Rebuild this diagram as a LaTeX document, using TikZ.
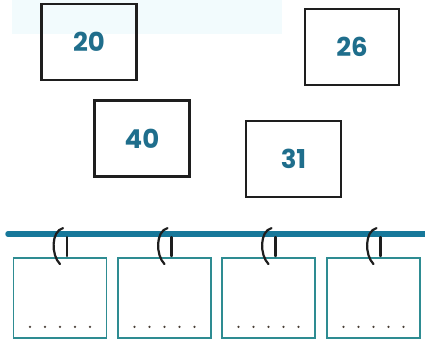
\documentclass[tikz,border=0pt]{standalone}
\usepackage{fontspec}
\setsansfont{Poppins}
\usepackage{xcolor}
\usepackage{tikz}
\usetikzlibrary{positioning,calc}
\definecolor{ink}{HTML}{1E1E1E}
\definecolor{numblue}{HTML}{1F6E8C}
\definecolor{rodblue}{HTML}{17789A}
\definecolor{cardteal}{HTML}{2E8C92}
\definecolor{haze}{HTML}{F2FBFD}
\definecolor{dotgray}{HTML}{4A4038}
\tikzset{
  numbox/.style={draw=ink,line width=2.4pt,minimum width=95pt,minimum height=76pt,inner sep=0pt,
    font=\sffamily\bfseries\fontsize{26}{28}\selectfont,text=numblue},
  card/.style={draw=cardteal,line width=1.8pt,minimum width=93pt,minimum height=80pt,inner sep=0pt},
  rod/.style={draw=rodblue,line width=5.5pt,line cap=round},
  ring/.style={draw=ink,line width=2.2pt,line cap=round},
  blank/.style={fill=dotgray,circle,inner sep=0pt,minimum size=2.6pt}
}
\begin{document}
\begin{tikzpicture}[x=1pt,y=-1pt]
  \useasboundingbox (0,0) rectangle (425,343);
  \fill[haze] (12,0) rectangle (282,34);

  % number boxes
  \node[numbox] (n20) at (89,42) {20};
  \node[numbox,minimum width=94pt,minimum height=76pt] (n26) at (352,47) {26};
  \node[numbox] (n40) at (142,138.5) {40};
  \node[numbox,minimum width=95pt,minimum height=76pt] (n31) at (293.5,159) {31};

  % rod and cards
  \coordinate (rodL) at (8,234);
  \coordinate (rodR) at (430,234);
  \draw[rod] (rodL) -- (rodR);
  \node[card] (c1) at (60,298) {};
  \node[card] (c2) at (164.5,298) {};
  \node[card] (c3) at (268.5,298) {};
  \node[card] (c4) at (373.5,298) {};

  \foreach \c in {c1,c2,c3,c4}{
    % ring hooking card on the rod
    \draw[ring] ($(\c.north)+(3,-29)$) .. controls ($(\c.north)+(-9,-26)$) and ($(\c.north)+(-9,-2)$) .. ($(\c.north)+(0,7)$);
    \draw[ring] ($(\c.north)+(7,-20)$) -- ($(\c.north)+(7,-1)$);
    \foreach \dx in {-30,-15,0,15,30}
      \node[blank] at ($(\c.south)+(\dx,-12)$) {};
  }
\end{tikzpicture}
\end{document}
